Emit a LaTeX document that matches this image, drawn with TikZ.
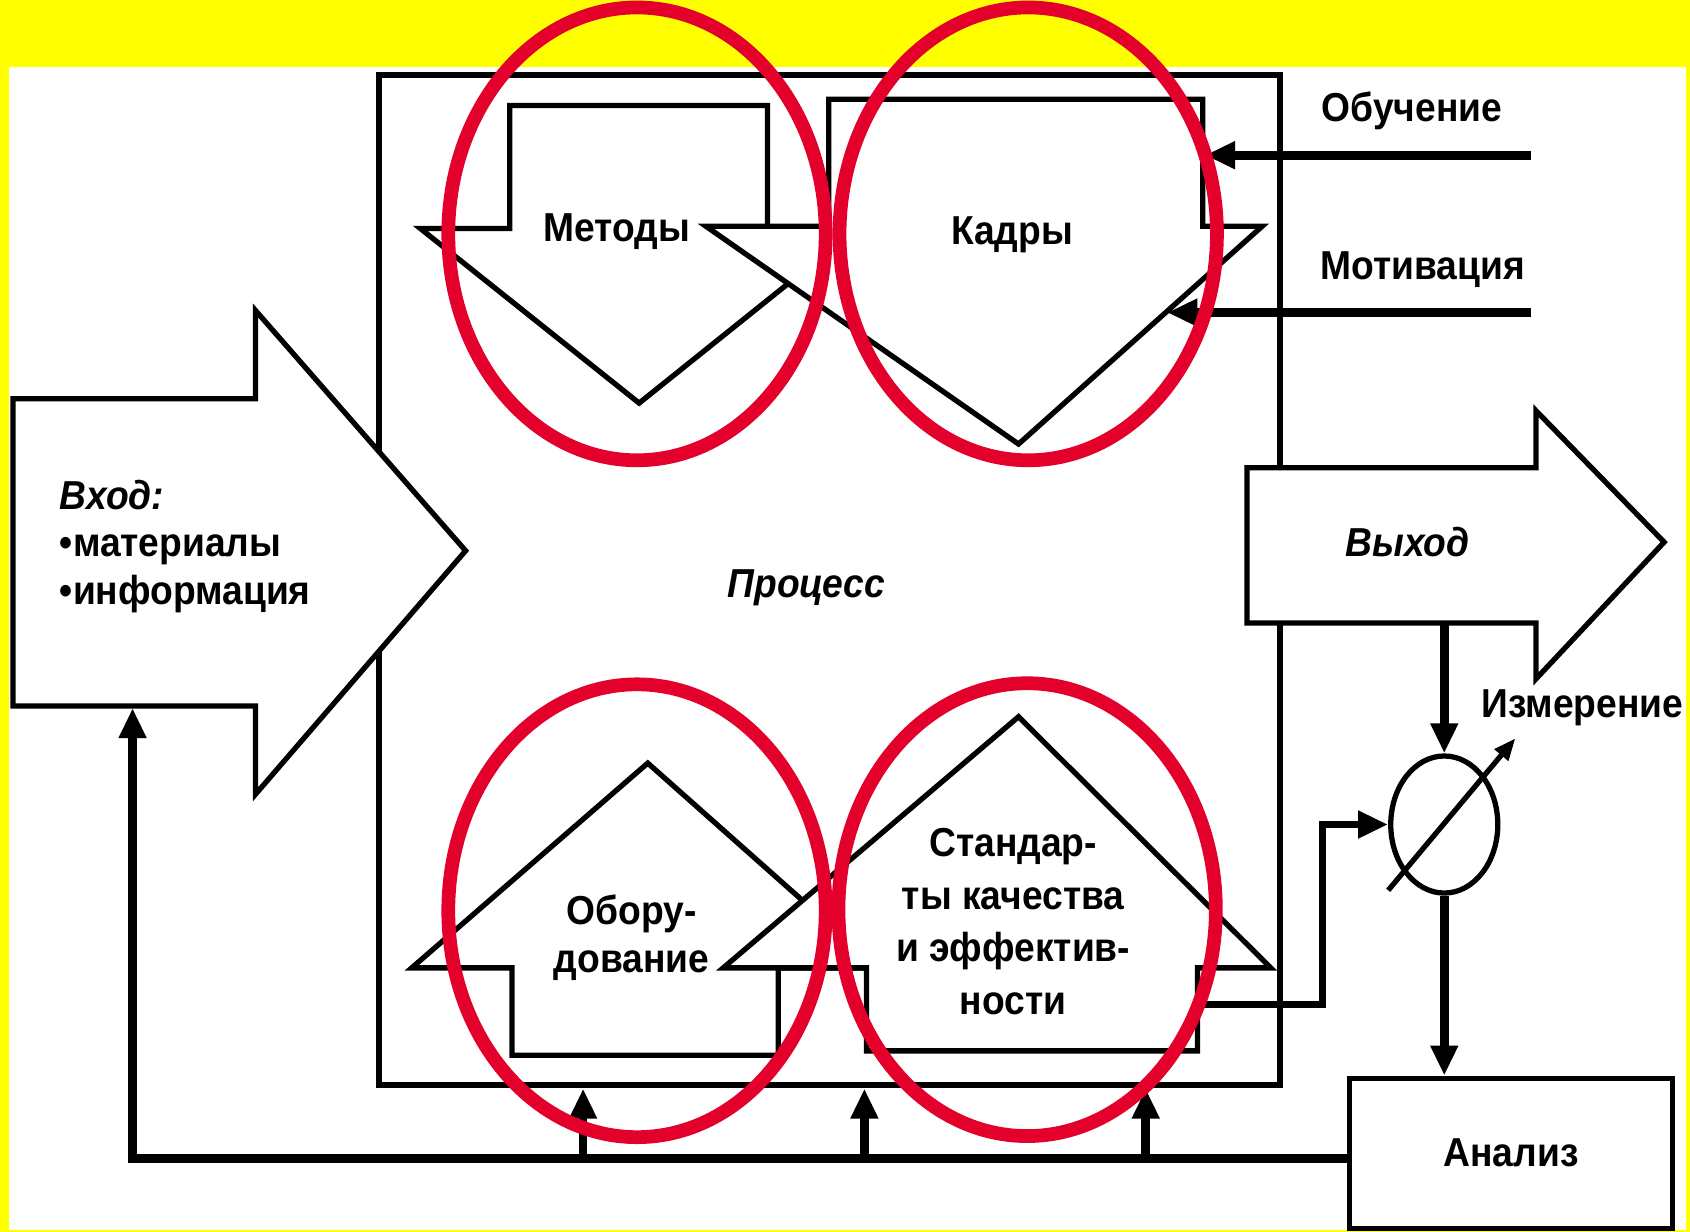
\documentclass[tikz,border=0pt]{standalone}
\usepackage{fontspec}
\setmainfont{Liberation Sans}[FakeStretch=0.92]
\usetikzlibrary{arrows.meta,shapes.geometric}
\definecolor{FrameYellow}{HTML}{FFFF00}
\definecolor{RingRed}{HTML}{E3002B}

\begin{document}
\begin{tikzpicture}[
    x=0.010778cm, y=-0.010778cm,
    every node/.style={font=\bfseries\fontsize{11.5}{14.5}\selectfont, inner sep=0pt},
    blk/.style={draw, fill=white, line width=1.5pt, line join=miter},
    frame/.style={draw, line width=1.7pt},
    arr/.style={line width=2.5pt, -{Triangle[length=0.30cm, width=0.26cm]}},
    thinarr/.style={line width=1.5pt, -{Triangle[length=0.22cm, width=0.17cm]}},
    ring/.style={draw=RingRed, line width=3.9pt},
    it/.style={font=\bfseries\itshape\fontsize{11.5}{14.5}\selectfont},
]
\useasboundingbox (0,0) rectangle (1568,1143);

%% Background
\fill[FrameYellow] (0,0) rectangle (1568,1143);
\fill[white] (8,62) rectangle (1564,1141);

%% Process frame
\draw[frame] (352,70) rectangle (1188,1007);

%% Block arrows (down)
\draw[blk] (473,98) -- (712,98) -- (712,212) -- (795,212) -- (593,374)
           -- (390,212) -- (473,212) -- cycle;
\draw[blk] (769,92) -- (1116,92) -- (1116,210) -- (1171,210) -- (945,412)
           -- (655,210) -- (769,210) -- cycle;

%% Block arrows (up)
\draw[blk] (475,979) -- (722,979) -- (722,898) -- (815,898) -- (601,708)
           -- (382,898) -- (475,898) -- cycle;
\draw[blk] (804,975) -- (1111,975) -- (1111,898) -- (1179,898) -- (945,665)
           -- (671,898) -- (804,898) -- cycle;

%% Input and output
\draw[blk] (12,370) -- (237,370) -- (237,288) -- (432,511) -- (237,737)
           -- (237,655) -- (12,655) -- cycle;
\draw[blk] (1157,434) -- (1425,434) -- (1425,381) -- (1544,503) -- (1425,630)
           -- (1425,578) -- (1157,578) -- cycle;

%% Labels
\node (tMethods) at (572,215) {Методы};
\node (tKadry)   at (939,218) {Кадры};
\node[align=center, font=\bfseries\fontsize{11.5}{13.8}\selectfont]
      (tEquip) at (586,870) {Обору-\\дование};
\node[align=center, font=\bfseries\fontsize{11.5}{15}\selectfont]
      (tStd) at (940,855) {Стандар-\\ты качества\\и эффектив-\\ности};
\node[it] (tProc) at (748,545) {Процесс};
\node[it] (tOut)  at (1306,503) {Выход};
\node[align=left, anchor=west, font=\bfseries\fontsize{11.5}{13.5}\selectfont]
      (tIn) at (55,507) {\textit{Вход:}\\•материалы\\•информация};
\node (tTrain) at (1310,103) {Обучение};
\node (tMotiv) at (1320,250) {Мотивация};
\node (tMeas)  at (1468,657) {Измерение};

%% Measurement and analysis
\node[draw, ellipse, line width=1.5pt, minimum width=1.07cm,
      minimum height=1.37cm] (meas) at (1340,765) {};
\node[draw, line width=1.5pt, minimum width=3.23cm, minimum height=1.5cm]
      (anal) at (1402,1070) {Анализ};

%% Connectors
\coordinate (trainIn) at (1420,144);
\coordinate (kadryE)  at (1118,144);
\coordinate (motivIn) at (1420,290);
\coordinate (kadryD)  at (1083,290);
\coordinate (outS)    at (1340,578);
\coordinate (stdE)    at (1111,932);
\coordinate (fbStart) at (1252,1075);
\coordinate (inS)     at (123,657);
\coordinate (measA)   at (1288,826);
\coordinate (measB)   at (1406,685);

\draw[arr] (trainIn) -- (kadryE);
\draw[arr] (motivIn) -- (kadryD);
\draw[arr] (outS) -- (meas.north);
\draw[arr] (meas.south) -- (meas.south |- anal.north);
\draw[arr, line width=2.2pt] (stdE) -- ++(116,0) |- (meas.west);
\draw[arr] (fbStart) -- (123,1075) -- (inS);
\foreach \xb/\nm in {541/a,802/b,1063/c}{
  \coordinate (fb\nm) at (\xb,1075);
  \coordinate (proc\nm) at (\xb,1010);
  \draw[arr] (fb\nm) -- (proc\nm);
}
\draw[thinarr] (measA) -- (measB);

%% Highlight rings
\draw[ring] (591,217) ellipse [x radius=1.886cm, y radius=2.263cm];
\draw[ring] (954,217) ellipse [x radius=1.886cm, y radius=2.263cm];
\draw[ring] (591,845) ellipse [x radius=1.886cm, y radius=2.263cm];
\draw[ring] (953,844) ellipse [x radius=1.886cm, y radius=2.263cm];

\end{tikzpicture}
\end{document}
